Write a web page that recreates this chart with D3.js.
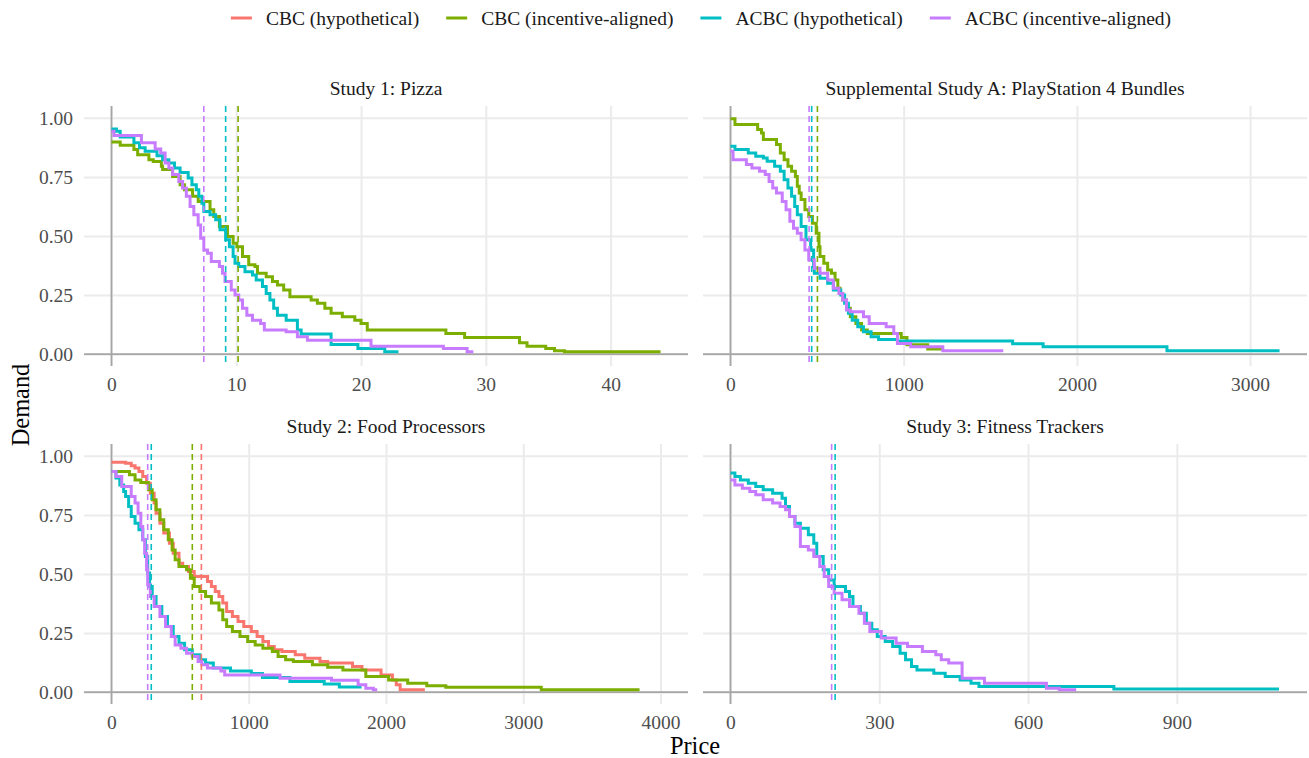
<!DOCTYPE html>
<html>
<head>
<meta charset="utf-8">
<script src="https://cdn.jsdelivr.net/npm/d3@7/dist/d3.min.js"></script>
<style>
  body { margin: 0; background: #fff; }
  svg, svg text { font-family: 'Liberation Serif', 'Times New Roman', serif; }
  svg { display: block; }
</style>
</head>
<body>
<svg id="chart" width="1309" height="758"></svg>
<script>

// Series, in legend order.
const seriesNames = ['CBC (hypothetical)', 'CBC (incentive-aligned)', 'ACBC (hypothetical)', 'ACBC (incentive-aligned)'];

const studyTitles = [
  'Study 1: Pizza',
  'Supplemental Study A: PlayStation 4 Bundles',
  'Study 2: Food Processors',
  'Study 3: Fitness Trackers'
];

// Price axis: tick labels and the largest price shown in each study.
const priceTicks = [[0, 10, 20, 30, 40], [0, 1000, 2000, 3000], [0, 1000, 2000, 3000, 4000], [0, 300, 600, 900]];
const priceMax = [44, 3170, 4000, 1107];

const demandTicks = [0, 0.25, 0.5, 0.75, 1];

// Demand curves, [price, demand] at each step.
const pizzaCbcIncentive = [[0, 0.898], [0.7, 0.884], [1.8, 0.866], [2.1, 0.844], [3.0, 0.823], [3.35, 0.815], [4.0, 0.795], [4.1, 0.781], [4.9, 0.752], [5.5, 0.717], [5.85, 0.696], [6.5, 0.668], [6.95, 0.646], [7.9, 0.611], [8.2, 0.583], [8.65, 0.540], [9.3, 0.498], [9.75, 0.469], [10.05, 0.455], [10.5, 0.413], [11.0, 0.378], [11.5, 0.371], [11.7, 0.342], [12.4, 0.328], [12.9, 0.307], [13.3, 0.293], [13.8, 0.272], [14.3, 0.243], [16.0, 0.229], [16.5, 0.215], [17.1, 0.194], [17.6, 0.173], [18.5, 0.158], [19.5, 0.144], [20.0, 0.130], [20.5, 0.102], [26.8, 0.088], [28.3, 0.071], [32.7, 0.048], [33.3, 0.034], [34.8, 0.024], [35.5, 0.014], [36.3, 0.010], [44.0, 0.010]];
const pizzaAcbcHypothetical = [[0, 0.953], [0.4, 0.943], [0.7, 0.919], [1.8, 0.894], [2.25, 0.873], [2.7, 0.859], [3.65, 0.840], [4.1, 0.823], [4.6, 0.809], [5.05, 0.788], [5.5, 0.769], [6.15, 0.745], [6.45, 0.717], [6.8, 0.696], [7.0, 0.668], [7.25, 0.639], [7.4, 0.604], [7.9, 0.590], [8.35, 0.569], [8.7, 0.526], [9.15, 0.484], [9.45, 0.455], [9.75, 0.413], [9.9, 0.385], [10.2, 0.371], [10.7, 0.349], [11.3, 0.335], [11.6, 0.314], [12.1, 0.286], [12.4, 0.257], [12.7, 0.229], [13.0, 0.194], [13.3, 0.165], [14.0, 0.144], [14.9, 0.102], [15.2, 0.085], [17.6, 0.041], [19.75, 0.024], [21.9, 0.010], [23.0, 0.010]];
const pizzaAcbcIncentive = [[0, 0.943], [0.2, 0.925], [2.4, 0.894], [3.5, 0.868], [3.95, 0.851], [4.3, 0.809], [4.6, 0.788], [4.9, 0.760], [5.4, 0.731], [5.7, 0.703], [6.0, 0.668], [6.3, 0.625], [6.6, 0.590], [6.95, 0.547], [7.15, 0.491], [7.4, 0.441], [7.7, 0.427], [8.0, 0.392], [8.65, 0.371], [8.9, 0.342], [9.1, 0.307], [9.6, 0.272], [9.9, 0.250], [10.2, 0.229], [10.5, 0.194], [10.85, 0.165], [11.3, 0.144], [11.95, 0.130], [12.25, 0.102], [14.0, 0.095], [14.9, 0.074], [15.7, 0.059], [20.8, 0.034], [26.6, 0.024], [28.5, 0.010], [29.0, 0.010]];

const ps4CbcIncentive = [[0, 0.996], [26, 0.972], [157, 0.951], [179, 0.936], [190, 0.908], [266, 0.887], [288, 0.851], [310, 0.823], [332, 0.795], [353, 0.774], [375, 0.752], [386, 0.710], [397, 0.682], [408, 0.654], [430, 0.611], [452, 0.583], [473, 0.554], [495, 0.512], [511, 0.455], [517, 0.413], [539, 0.385], [561, 0.356], [583, 0.342], [604, 0.314], [620, 0.279], [633, 0.257], [648, 0.229], [670, 0.194], [692, 0.158], [724, 0.130], [757, 0.102], [790, 0.088], [986, 0.071], [1019, 0.040], [1139, 0.022], [1230, 0.022]];
const ps4AcbcHypothetical = [[0, 0.880], [26, 0.866], [103, 0.851], [146, 0.837], [190, 0.830], [212, 0.816], [255, 0.795], [288, 0.774], [310, 0.738], [332, 0.703], [353, 0.668], [371, 0.625], [386, 0.590], [408, 0.540], [436, 0.484], [463, 0.441], [480, 0.371], [484, 0.342], [517, 0.321], [561, 0.300], [594, 0.272], [637, 0.250], [659, 0.215], [681, 0.173], [703, 0.144], [735, 0.116], [768, 0.095], [812, 0.074], [855, 0.062], [964, 0.056], [1629, 0.044], [1805, 0.031], [2520, 0.015], [3170, 0.015]];
const ps4AcbcIncentive = [[0, 0.859], [15, 0.823], [92, 0.802], [124, 0.788], [168, 0.774], [201, 0.760], [223, 0.731], [244, 0.703], [266, 0.682], [299, 0.646], [321, 0.611], [343, 0.562], [364, 0.533], [386, 0.512], [408, 0.484], [430, 0.441], [452, 0.399], [484, 0.364], [517, 0.342], [561, 0.314], [594, 0.279], [626, 0.257], [648, 0.229], [670, 0.187], [692, 0.180], [768, 0.158], [801, 0.130], [899, 0.116], [943, 0.088], [964, 0.045], [1041, 0.031], [1226, 0.014], [1575, 0.014]];

const foodCbcHypothetical = [[0, 0.973], [103, 0.969], [144, 0.958], [172, 0.948], [200, 0.934], [228, 0.913], [256, 0.884], [283, 0.842], [311, 0.800], [325, 0.757], [353, 0.715], [381, 0.673], [422, 0.630], [450, 0.588], [492, 0.546], [519, 0.532], [561, 0.511], [603, 0.489], [700, 0.468], [728, 0.447], [756, 0.426], [783, 0.405], [811, 0.377], [839, 0.341], [881, 0.320], [922, 0.299], [964, 0.278], [1019, 0.257], [1061, 0.236], [1103, 0.214], [1144, 0.193], [1186, 0.179], [1242, 0.172], [1339, 0.158], [1408, 0.144], [1519, 0.130], [1575, 0.123], [1756, 0.109], [1825, 0.094], [1964, 0.073], [2047, 0.052], [2075, 0.031], [2103, 0.010], [2283, 0.010]];
const foodCbcIncentive = [[0, 0.934], [131, 0.920], [172, 0.898], [214, 0.887], [269, 0.856], [297, 0.814], [325, 0.772], [353, 0.729], [381, 0.687], [414, 0.645], [442, 0.602], [464, 0.560], [492, 0.532], [547, 0.518], [575, 0.482], [603, 0.447], [644, 0.426], [686, 0.405], [728, 0.377], [783, 0.348], [811, 0.306], [839, 0.278], [881, 0.257], [936, 0.236], [992, 0.214], [1047, 0.200], [1103, 0.186], [1172, 0.172], [1214, 0.151], [1269, 0.137], [1325, 0.130], [1464, 0.116], [1575, 0.106], [1686, 0.094], [1853, 0.066], [2019, 0.052], [2158, 0.038], [2297, 0.027], [2436, 0.021], [3131, 0.010], [3847, 0.010]];
const foodAcbcHypothetical = [[0, 0.934], [33, 0.906], [61, 0.877], [89, 0.849], [103, 0.828], [125, 0.786], [144, 0.743], [172, 0.715], [200, 0.687], [228, 0.645], [247, 0.574], [264, 0.504], [278, 0.447], [297, 0.405], [325, 0.362], [367, 0.320], [408, 0.278], [450, 0.236], [492, 0.207], [533, 0.179], [589, 0.158], [644, 0.137], [686, 0.123], [742, 0.102], [867, 0.090], [1019, 0.079], [1100, 0.062], [1300, 0.045], [1550, 0.035], [1660, 0.022], [1822, 0.022]];
const foodAcbcIncentive = [[0, 0.934], [33, 0.913], [75, 0.870], [144, 0.828], [172, 0.800], [194, 0.757], [214, 0.701], [228, 0.645], [242, 0.588], [256, 0.518], [264, 0.454], [283, 0.405], [311, 0.362], [353, 0.320], [394, 0.278], [436, 0.236], [464, 0.200], [506, 0.186], [547, 0.165], [589, 0.151], [631, 0.130], [658, 0.116], [700, 0.102], [797, 0.090], [825, 0.073], [1228, 0.059], [1603, 0.050], [1797, 0.031], [1853, 0.017], [1908, 0.010], [1936, 0.010]];

const fitnessAcbcHypothetical = [[0, 0.927], [9, 0.913], [20, 0.898], [36, 0.884], [51, 0.870], [66, 0.856], [85, 0.842], [104, 0.821], [111, 0.786], [119, 0.743], [130, 0.715], [141, 0.694], [157, 0.666], [168, 0.630], [174, 0.574], [187, 0.518], [198, 0.475], [209, 0.447], [232, 0.426], [240, 0.405], [247, 0.362], [262, 0.334], [274, 0.292], [285, 0.264], [296, 0.236], [312, 0.214], [327, 0.193], [342, 0.165], [353, 0.137], [365, 0.109], [376, 0.094], [410, 0.080], [433, 0.066], [463, 0.052], [485, 0.038], [501, 0.024], [773, 0.013], [1106, 0.013]];
const fitnessAcbcIncentive = [[0, 0.898], [9, 0.877], [24, 0.863], [39, 0.849], [51, 0.835], [66, 0.814], [85, 0.800], [100, 0.786], [111, 0.772], [119, 0.743], [130, 0.701], [141, 0.616], [157, 0.602], [168, 0.574], [180, 0.532], [189, 0.489], [198, 0.447], [209, 0.419], [225, 0.391], [240, 0.362], [259, 0.334], [270, 0.292], [281, 0.257], [304, 0.229], [334, 0.207], [357, 0.193], [387, 0.172], [414, 0.158], [425, 0.137], [440, 0.123], [467, 0.059], [512, 0.038], [637, 0.017], [663, 0.010], [697, 0.010]];

// Median price of each series (dashed lines); null where the series is absent.
const pizzaMedians = [null, 10.15, 9.15, 7.4];
const ps4Medians = [null, 502, 469, 454];
const foodMedians = [655, 589, 290, 264];
const fitnessMedians = [null, null, 211, 204];


const colors = ['#F8766D', '#7CAE00', '#00BFC4', '#C77CFF'];

const studies = [
  { curves: [null, pizzaCbcIncentive, pizzaAcbcHypothetical, pizzaAcbcIncentive], medians: pizzaMedians },
  { curves: [null, ps4CbcIncentive, ps4AcbcHypothetical, ps4AcbcIncentive], medians: ps4Medians },
  { curves: [foodCbcHypothetical, foodCbcIncentive, foodAcbcHypothetical, foodAcbcIncentive], medians: foodMedians },
  { curves: [null, null, fitnessAcbcHypothetical, fitnessAcbcIncentive], medians: fitnessMedians }
];

const panel = { left: 84, top: 106, width: 604, height: 260, dx: 619, dy: 338 };
const serif = "'Liberation Serif', 'Times New Roman', serif";

let svg = d3.select('#chart');
svg.append('rect').attr('width', 1309).attr('height', 758).attr('fill', '#fff');


/**
 * Draw one facet.
 */
studies.forEach(function(study, i) {

  let col = i % 2;
  let row = Math.floor(i / 2);
  let g = svg.append('g')
    .attr('transform', `translate(${panel.left + col * panel.dx},${panel.top + row * panel.dy})`);

  let max = priceMax[i];
  let x = d3.scaleLinear().domain([-0.05 * max, 1.05 * max]).range([0, panel.width]);
  let y = d3.scaleLinear().domain([-0.05, 1.05]).range([panel.height, 0]);

  // Grid and tick labels.
  let xAxis = g.append('g')
    .attr('transform', `translate(0,${panel.height})`)
    .call(d3.axisBottom(x).tickValues(priceTicks[i]).tickSize(-panel.height).tickPadding(11)
      .tickFormat(d3.format('d')));

  let yAxis = g.append('g')
    .call(d3.axisLeft(y).tickValues(demandTicks).tickSize(-panel.width).tickPadding(11)
      .tickFormat(col === 0 ? d3.format('.2f') : ''));

  [xAxis, yAxis].forEach(function(axis) {
    axis.attr('font-family', serif).attr('font-size', 19.5);
    axis.select('.domain').remove();
    axis.selectAll('.tick line').attr('stroke', '#EBEBEB').attr('stroke-width', 2);
    axis.selectAll('.tick text').attr('fill', '#4D4D4D');
  });

  // Zero lines.
  g.append('line')
    .attr('x1', 0).attr('x2', panel.width)
    .attr('y1', y(0)).attr('y2', y(0))
    .attr('stroke', '#A6A6A6').attr('stroke-width', 1.8);

  g.append('line')
    .attr('x1', x(0)).attr('x2', x(0))
    .attr('y1', 0).attr('y2', panel.height)
    .attr('stroke', '#A6A6A6').attr('stroke-width', 1.8);

  // The demand steps.
  let line = d3.line()
    .x(d => x(d[0]))
    .y(d => y(d[1]))
    .curve(d3.curveStepAfter);

  study.curves.forEach(function(curve, s) {
    if (!curve) return;
    g.append('path')
      .datum(curve)
      .attr('d', line)
      .attr('fill', 'none')
      .attr('stroke', colors[s])
      .attr('stroke-width', 3);
  });

  // Median prices.
  study.medians.forEach(function(m, s) {
    if (m == null) return;
    g.append('line')
      .attr('x1', x(m)).attr('x2', x(m))
      .attr('y1', 0).attr('y2', panel.height)
      .attr('stroke', colors[s])
      .attr('stroke-width', 1.6)
      .attr('stroke-dasharray', '6,4');
  });

  // Strip title.
  g.append('text')
    .attr('x', panel.width / 2)
    .attr('y', -18)
    .attr('dy', '0.35em')
    .attr('text-anchor', 'middle')
    .attr('fill', '#1A1A1A')
    .attr('font-size', 19.5)
    .text(studyTitles[i]);

});


// Axis titles.
svg.append('text')
  .attr('transform', 'translate(20,405) rotate(-90)')
  .attr('dy', '0.35em')
  .attr('text-anchor', 'middle')
  .attr('font-size', 24.4)
  .text('Demand');

svg.append('text')
  .attr('x', 695)
  .attr('y', 745)
  .attr('dy', '0.35em')
  .attr('text-anchor', 'middle')
  .attr('font-size', 24.4)
  .text('Price');


// Legend, centred above the panels.
let legend = svg.append('g');
let cursor = 0;

seriesNames.forEach(function(name, s) {
  let item = legend.append('g').attr('transform', `translate(${cursor},0)`);
  item.append('line')
    .attr('x1', 0).attr('x2', 21)
    .attr('stroke', colors[s])
    .attr('stroke-width', 3);
  let label = item.append('text')
    .attr('x', 35)
    .attr('dy', '0.35em')
    .attr('fill', '#1A1A1A')
    .attr('font-size', 19.5)
    .text(name);
  cursor += 35 + label.node().getComputedTextLength() + 27;
});

legend.attr('transform', `translate(${701 - (cursor - 27) / 2},18)`);

</script>
</body>
</html>
